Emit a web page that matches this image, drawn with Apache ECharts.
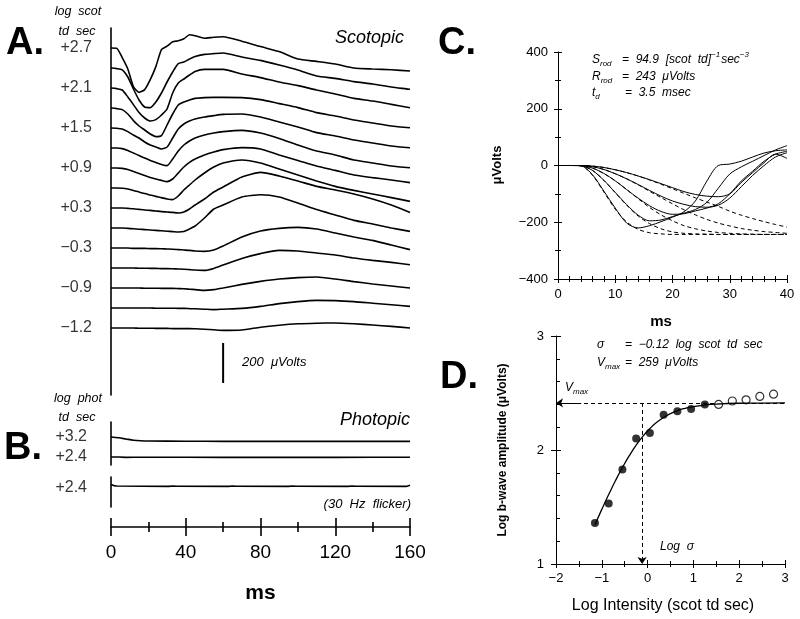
<!DOCTYPE html>
<html><head><meta charset="utf-8">
<script src="https://cdn.jsdelivr.net/npm/echarts@6/dist/echarts.min.js"></script>
<style>html,body{margin:0;padding:0;background:#fff}#c{width:800px;height:619px}</style>
</head><body><div id="c"></div>
<script>
// ---------- Panel A: scotopic ERG traces (µV deflection from each trace's baseline) ----------
const timeMs = [0,3,6,9,12,15,18,21,24,27,30,33,36,39,42,45,50,55,60,70,80,90,100,110,120,130,140,150,160];
const scot01 = [0,-1,-48,-105,-193,-222,-208,-158,-93,-8,9,31,36,46,66,61,49,54,56,34,7,-18,-55,-67,-80,-100,-105,-109,-115];
const scot02 = [0,-3,-9,-45,-105,-160,-195,-198,-170,-125,-70,-20,22,30,45,58,68,72,75,55,38,15,-10,-40,-52,-68,-80,-95,-107];
const scot03 = [0,-3,-10,-45,-83,-123,-150,-165,-158,-135,-105,-25,25,45,65,83,93,93,93,70,52,30,12,-10,-30,-52,-65,-82,-99];
const scot04 = [0,-3,-8,-30,-63,-90,-110,-130,-143,-138,-85,-30,15,30,40,48,52,53,53,52,42,22,2,-23,-40,-60,-75,-90,-99];
const scot05 = [0,-1,-5,-18,-35,-50,-70,-85,-95,-105,-95,-50,-5,20,35,45,55,62,68,70,55,30,5,-23,-40,-60,-75,-90,-99];
const scot06 = [0,0,-3,-12,-25,-38,-50,-62,-72,-82,-88,-55,-15,15,35,50,65,75,82,88,75,48,15,-15,-35,-60,-75,-90,-99];
const scot07 = [0,0,-2,-8,-18,-28,-38,-47,-55,-62,-68,-55,-25,5,28,45,65,80,92,102,95,65,38,10,-12,-35,-48,-60,-73];
const scot08 = [0,0,-1,-5,-12,-20,-28,-35,-42,-48,-55,-58,-40,-10,15,40,75,105,125,140,125,95,65,35,8,-12,-30,-48,-67];
const scot09 = [0,0,0,-2,-4,-7,-10,-12,-15,-18,-20,-22,-25,-20,-5,15,45,80,105,155,178,160,135,108,90,70,45,15,-22];
const scot10 = [0,0,0,-2,-4,-6,-8,-10,-12,-14,-16,-18,-20,-18,-5,10,50,95,115,155,166,155,125,92,65,38,20,0,-17];
const scot11 = [0,0,0,0,-2,-2,-2,-3,-3,-4,-5,-6,-8,-10,-12,-15,-17,-10,10,55,85,98,103,95,75,55,38,15,-8];
const scot12 = [0,0,0,0,0,-1,-1,-2,-2,-3,-3,-4,-5,-6,-8,-10,-12,-2,15,48,72,88,85,75,65,50,38,28,16];
const scot13 = [0,0,0,0,0,0,-1,-1,-1,-2,-2,-2,-3,-4,-6,-8,-12,-8,0,18,33,45,52,55,45,32,20,10,0];
const scot14 = [0,0,0,0,0,0,0,0,-1,-1,-1,-1,-2,-2,-3,-4,-6,-8,-6,-2,8,22,32,38,37,32,24,16,8];
const scot15 = [0,0,0,0,0,-1,-1,-1,-2,-2,-2,-3,-3,-3,-3,-4,-6,-9,-12,-10,4,14,21,24,25,21,15,8,0];
const scotTraces = [scot01,scot02,scot03,scot04,scot05,scot06,scot07,scot08,scot09,scot10,scot11,scot12,scot13,scot14,scot15];
const scotLabels = ['+2.7','','+2.1','','+1.5','','+0.9','','+0.3','','−0.3','','−0.9','','−1.2'];
const rowStepUv = 100;            // vertical separation between stacked traces (µV)
const scaleBarUv = 200;           // calibration bar

// ---------- Panel B: photopic ----------
const photoTime = [0,4,8,12,16,20,40,60,80,100,120,140,160];
const photo32 = [0,-4,-10,-16,-19,-20,-21,-22,-22,-22,-22,-22,-22];
const photo24 = [0,0,-2,-1,-1,-1,-1,-2,-2,-1,-2,-1,-1];
const flickerTime = [0,1.5,3,31,32,33,35,63,64,65,67,95,96,97,99,127,128,129,131,158,159,160];
const flicker24 = [8,2,0,-2,8,0,-1,-2,8,0,-1,-2,8,0,-1,-2,8,0,-1,-2,8,4];
const photoLabels = ['+3.2','+2.4'];
const flickerLabel = '+2.4';

// ---------- Panel C: a-wave, recorded (solid) and model (dashed) ----------
const cTime = [0,2,4,6,8,10,12,14,16,18,20,22,24,26,28,30,32,34,36,38,40];
const cResp27 = [0,0,-1,-32,-90,-150,-203,-220,-212,-198,-182,-163,-125,-55,0,5,15,30,44,52,55];
const cResp24 = [0,0,-1,-17,-52,-95,-138,-175,-195,-192,-180,-168,-155,-130,-80,-30,-5,15,35,55,70];
const cResp21 = [0,0,0,-9,-28,-54,-85,-115,-142,-162,-172,-170,-160,-150,-135,-100,-55,-20,15,40,50];
const cResp18 = [0,0,0,-4,-14,-29,-47,-67,-88,-108,-125,-137,-145,-147,-140,-115,-75,-35,0,30,45];
const cResp15 = [0,0,0,-2,-7,-15,-25,-37,-50,-64,-78,-92,-102,-108,-110,-100,-60,-25,10,40,25];
const cModel27 = [0,0,-1,-34,-93,-154,-199,-225,-237,-241,-243,-243,-243,-243,-243,-243,-243,-243,-243,-243,-243];
const cModel24 = [0,0,-1,-17,-52,-96,-140,-178,-205,-223,-234,-239,-241,-242,-243,-243,-243,-243,-243,-243,-243];
const cModel21 = [0,0,0,-9,-28,-54,-85,-117,-148,-174,-195,-212,-223,-231,-236,-239,-241,-242,-243,-243,-243];
const cModel18 = [0,0,0,-4,-14,-29,-47,-68,-91,-113,-135,-156,-174,-190,-203,-213,-222,-228,-233,-236,-239];
const cModel15 = [0,0,0,-2,-7,-15,-25,-37,-51,-66,-82,-98,-114,-129,-144,-161,-175,-187,-198,-208,-217];

// ---------- Panel D: intensity-response ----------
const dFilledX = [-1.15,-0.85,-0.55,-0.25,0.05,0.35,0.65,0.95,1.25];
const dFilledY = [1.36,1.53,1.83,2.10,2.15,2.31,2.34,2.36,2.40];
const dOpenX = [1.55,1.85,2.15,2.45,2.75];
const dOpenY = [2.40,2.43,2.44,2.47,2.49];
const dFitX = [-1.15,-1.0,-0.85,-0.7,-0.55,-0.4,-0.25,-0.1,0.05,0.2,0.4,0.6,0.8,1.0,1.25,1.5,2.0,2.5,3.0];
const dFitY = [1.344,1.479,1.609,1.732,1.846,1.950,2.042,2.122,2.189,2.243,2.298,2.337,2.364,2.381,2.395,2.403,2.410,2.412,2.413];
const dLogVmax = 2.413;
const dLogSigma = -0.12;

// ---------------------------------------------------------------------------
const K = '#000';
const FONT = '"Liberation Sans", Arial, Helvetica, sans-serif';
const chart = echarts.init(document.getElementById('c'));
const minus = v => String(v).replace('-', '−');

function hiddenX(g, min, max){ return {gridIndex:g, type:'value', min, max, show:false}; }
function lineAxisY(g, min, max){
  return {gridIndex:g, type:'value', min, max, position:'left',
    axisLine:{show:true, onZero:false, lineStyle:{color:K, width:1.6}},
    axisTick:{show:false}, axisLabel:{show:false}, splitLine:{show:false}};
}
function tickAxis(dim, g, min, max, interval, split, inside, labels, opt){
  opt = opt || {};
  return {gridIndex:g, type:'value', min, max, interval,
    position: dim==='x' ? 'bottom' : 'left',
    axisLine:{show:!inside, onZero:false, lineStyle:{color:K, width:opt.lw||1}},
    axisTick:{show:true, inside, length:opt.major||4, lineStyle:{color:K, width:opt.lw||1}},
    minorTick:{show: split>0 && (opt.minorOut!==false || inside), splitNumber:split||1, length:opt.minor||3, lineStyle:{color:K, width:opt.lw||1}},
    splitLine:{show:false}, minorSplitLine:{show:false},
    axisLabel:{show:labels, color:K, fontSize:opt.fs||13, fontFamily:FONT, margin:opt.margin||8, formatter: minus}};
}

const xAxis = [
  hiddenX(0,0,160), hiddenX(1,0,160), hiddenX(2,0,160),
  Object.assign(tickAxis('x',3,0,160,40,2,false,true,{major:9,minor:5,lw:1.6,fs:19,margin:16}),
    {name:'ms', nameLocation:'middle', nameGap:56, nameTextStyle:{fontSize:21, fontWeight:'bold', color:K, fontFamily:FONT}}),
  tickAxis('x',3,0,160,40,2,true,false,{major:9,minor:5,lw:1.6}),
  tickAxis('x',4,0,40,10,5,false,true,{major:4,minor:3,margin:9}),
  tickAxis('x',4,0,40,10,5,true,false,{major:4,minor:3}),
  tickAxis('x',5,-2,3,1,2,false,true,{major:4,minor:3,margin:8}),
  tickAxis('x',5,-2,3,1,2,true,false,{major:4,minor:3})
];
const yAxis = [
  lineAxisY(0,-1735,100), lineAxisY(1,-140,75), lineAxisY(2,-105,45),
  {gridIndex:3, type:'value', min:0, max:1, show:false},
  tickAxis('y',4,-400,400,200,2,false,true,{major:4,minor:3,margin:10}),
  tickAxis('y',4,-400,400,200,2,true,false,{major:4,minor:3}),
  tickAxis('y',5,1,3,1,5,false,true,{major:5,minor:3,margin:12,minorOut:false}),
  tickAxis('y',5,1,3,1,5,true,false,{major:5,minor:4})
];

const grid = [
  {left:111, top:28, width:299, height:367},
  {left:111, top:422, width:299, height:43},
  {left:111, top:477, width:299, height:30},
  {left:111, top:526, width:299, height:1},
  {left:558, top:52, width:229, height:227},
  {left:556, top:336, width:229, height:228}
].map(g => Object.assign(g, {containLabel:false, outerBoundsMode:'none'}));

const series = [];
const baseLine = (xi, yi, data, w, extra) => Object.assign({type:'line', xAxisIndex:xi, yAxisIndex:yi, data,
  symbol:'none', showSymbol:false, silent:true, animation:false, lineStyle:{color:K, width:w}}, extra||{});

// Panel A traces
scotTraces.forEach((vals, i) => {
  series.push(baseLine(0, 0, timeMs.map((t, j) => [t, vals[j] - i*rowStepUv]), 1.6, {smooth:0.2}));
});
series.push({type:'scatter', xAxisIndex:0, yAxisIndex:0, symbolSize:0, silent:true, animation:false,
  data: scotLabels.map((l, i) => ({name:l, value:[0, -i*rowStepUv]})).filter(d => d.name),
  label:{show:true, position:'left', distance:19, formatter:'{b}', fontSize:16, color:K, fontFamily:FONT}});
const barTop = -(scotTraces.length - 1)*rowStepUv - 75;
series.push(baseLine(0, 0, [[60, barTop], [60, barTop - scaleBarUv]], 2));

// Panel B
series.push(baseLine(1, 1, photoTime.map((t, j) => [t, photo32[j]]), 1.6, {smooth:0.3}));
series.push(baseLine(1, 1, photoTime.map((t, j) => [t, photo24[j] - rowStepUv]), 1.6));
series.push({type:'scatter', xAxisIndex:1, yAxisIndex:1, symbolSize:0, silent:true, animation:false,
  data: photoLabels.map((l, i) => ({name:l, value:[0, -i*rowStepUv]})),
  label:{show:true, position:'left', distance:24, formatter:'{b}', fontSize:16, color:K, fontFamily:FONT}});
series.push(baseLine(2, 2, flickerTime.map((t, j) => [t, flicker24[j]]), 1.6));
series.push({type:'scatter', xAxisIndex:2, yAxisIndex:2, symbolSize:0, silent:true, animation:false,
  data:[{name:flickerLabel, value:[0,-10]}],
  label:{show:true, position:'left', distance:24, formatter:'{b}', fontSize:16, color:K, fontFamily:FONT}});

// Panel C
[cModel15, cModel18, cModel21, cModel24, cModel27].forEach(m => {
  series.push(baseLine(5, 4, cTime.map((t, j) => [t, m[j]]), 1, {smooth:0.3, lineStyle:{color:K, width:1, type:[4,3]}}));
});
[cResp15, cResp18, cResp21, cResp24, cResp27].forEach(r => {
  series.push(baseLine(5, 4, cTime.map((t, j) => [t, r[j]]), 1, {smooth:0.3}));
});

// Panel D
const linesBase = {type:'lines', coordinateSystem:'cartesian2d', xAxisIndex:7, yAxisIndex:6, silent:true, animation:false};
series.push(Object.assign({}, linesBase, {data:[{coords:[[-2, dLogVmax],[3, dLogVmax]]}], symbol:'none',
  lineStyle:{color:K, width:1, type:[4,3], opacity:1}}));
series.push(Object.assign({}, linesBase, {data:[{coords:[[dLogSigma, dLogVmax],[dLogSigma, 1.0]]}], symbol:['none','arrow'], symbolSize:7,
  lineStyle:{color:K, width:1, type:[4,3], opacity:1}}));
series.push(Object.assign({}, linesBase, {data:[{coords:[[-1.45, dLogVmax],[-2, dLogVmax]]}], symbol:['none','arrow'], symbolSize:7,
  lineStyle:{color:K, width:1, opacity:1}}));
series.push(baseLine(7, 6, dFitX.map((x, j) => [x, dFitY[j]]), 1.3, {smooth:true}));
series.push({type:'scatter', xAxisIndex:7, yAxisIndex:6, symbol:'circle', symbolSize:8, silent:true, animation:false,
  data: dFilledX.map((x, j) => [x, dFilledY[j]]), itemStyle:{color:K}});
series.push({type:'scatter', xAxisIndex:7, yAxisIndex:6, symbol:'circle', symbolSize:8, silent:true, animation:false,
  data: dOpenX.map((x, j) => [x, dOpenY[j]]), itemStyle:{color:'#fff', borderColor:K, borderWidth:1.2}});

// ---------- text annotations ----------
const mctx = document.createElement('canvas').getContext('2d');
function measure(text, fs, it){ mctx.font = (it ? 'italic ' : '') + fs + 'px ' + FONT; return mctx.measureText(text).width; }
function T(text, x, y, o){
  o = o || {};
  const st = {text, fill:K, fontSize:o.fs||12, fontStyle:o.it?'italic':'normal', fontWeight:o.bold?'bold':'normal',
    fontFamily:FONT, align:o.align||'left', textAlign:o.align||'left', verticalAlign:'middle', textVerticalAlign:'middle'};
  const el = {type:'text', x, y, style:st, silent:true, z:100};
  if (o.rot) el.rotation = o.rot;
  return el;
}
function seq(x, y, parts, fs){
  const out = []; let cx = x;
  parts.forEach(([t, k]) => {
    const f = k === 'n' ? fs : Math.round(fs*0.68);
    const dy = k === 's' ? 4 : (k === 'p' ? -5 : 0);
    out.push(T(t, cx, y + dy, {it:true, fs:f}));
    cx += measure(t, f, true) + (k === 'n' ? 0 : 1);
  });
  return out;
}
const graphic = [
  T('A.', 6, 44, {fs:38, bold:true}),
  T('B.', 4, 449, {fs:38, bold:true}),
  T('C.', 438, 44, {fs:38, bold:true}),
  T('D.', 440, 378, {fs:38, bold:true}),
  T('log  scot', 78, 12, {it:true, fs:12.5, align:'center'}),
  T('td  sec', 77, 32, {it:true, fs:12.5, align:'center'}),
  T('Scotopic', 404, 38, {it:true, fs:18, align:'right'}),
  T('200  μVolts', 242, 362, {it:true, fs:13}),
  T('log  phot', 78, 399, {it:true, fs:12.5, align:'center'}),
  T('td  sec', 77, 418, {it:true, fs:12.5, align:'center'}),
  T('Photopic', 410, 420, {it:true, fs:18, align:'right'}),
  T('(30  Hz  flicker)', 411, 504, {it:true, fs:13, align:'right'}),
  T('μVolts', 497, 165, {bold:true, fs:13, align:'center', rot:Math.PI/2}),
  T('ms', 661, 322, {bold:true, fs:15, align:'center'}),
  T('Log b-wave amplitude (μVolts)', 503, 450, {bold:true, fs:12, align:'center', rot:Math.PI/2}),
  T('Log Intensity (scot td sec)', 663, 606, {fs:16, align:'center'}),
  T('Log  σ', 660, 547, {it:true, fs:12})
].concat(
  seq(592, 60, [['S','n'],['rod','s']], 12),
  seq(622, 60, [['=  94.9  [scot  td]','n'],['−1','p'],['sec','n'],['−3','p']], 12),
  seq(592, 77, [['R','n'],['rod','s']], 12),
  seq(622, 77, [['=  243  μVolts','n']], 12),
  seq(592, 93, [['t','n'],['d','s']], 12),
  seq(625, 93, [['=  3.5  msec','n']], 12),
  seq(597, 345, [['σ','n']], 12),
  seq(625, 345, [['=  −0.12  log  scot  td  sec','n']], 12),
  seq(597, 363, [['V','n'],['max','s']], 12),
  seq(625, 363, [['=  259  μVolts','n']], 12),
  seq(565, 388, [['V','n'],['max','s']], 12)
);

chart.setOption({
  backgroundColor:'#fff', animation:false,
  textStyle:{fontFamily:FONT, color:K},
  grid, xAxis, yAxis, series, graphic
});
</script></body></html>
